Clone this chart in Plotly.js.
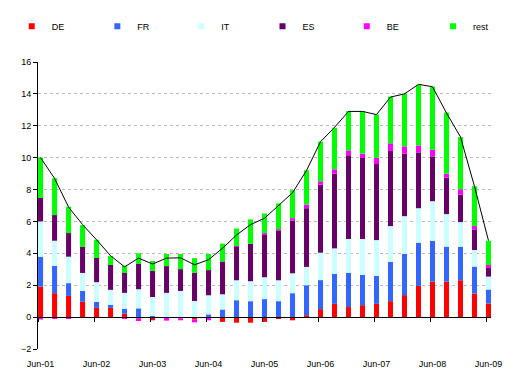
<!DOCTYPE html>
<html>
<head>
<meta charset="utf-8">
<script src="https://cdn.plot.ly/plotly-3.0.1.min.js"></script>
<style>html,body{margin:0;padding:0;background:#fff}#chart{width:515px;height:392px}</style>
</head>
<body>
<div id="chart"></div>
<script>
// Quarters Jun-01 .. Jun-09 (33 quarters)
var quarters = ["Jun-01","Sep-01","Dec-01","Mar-02","Jun-02","Sep-02","Dec-02","Mar-03","Jun-03","Sep-03","Dec-03","Mar-04","Jun-04","Sep-04","Dec-04","Mar-05","Jun-05","Sep-05","Dec-05","Mar-06","Jun-06","Sep-06","Dec-06","Mar-07","Jun-07","Sep-07","Dec-07","Mar-08","Jun-08","Sep-08","Dec-08","Mar-09","Jun-09"];
var tickLabels = ["Jun-01","Jun-02","Jun-03","Jun-04","Jun-05","Jun-06","Jun-07","Jun-08","Jun-09"];

var DE   = [1.92,1.50,1.33,0.96,0.58,0.58,0.21,-0.10,-0.20,0,-0.08,-0.15,0,-0.30,-0.35,-0.35,-0.30,-0.12,-0.20,0.12,0.50,0.83,0.63,0.75,0.83,1.00,1.38,1.96,2.23,2.23,2.31,1.48,0.85];
var FR   = [1.87,1.71,0.80,0.69,0.38,0.19,0.31,0.55,0.08,0,0,0,0.17,0.48,1.06,1.00,1.13,1.00,1.50,1.88,1.82,1.88,2.14,1.90,1.75,2.46,2.58,2.71,2.56,2.19,2.11,1.69,0.88];
var IT   = [2.21,1.58,1.66,1.12,1.23,0.94,1.00,1.20,1.18,1.52,1.64,1.01,1.20,0.95,1.25,1.25,1.37,1.31,1.25,1.15,1.72,1.60,2.13,2.25,2.25,2.25,2.37,2.16,2.48,2.04,1.54,1.04,0.81];
var ES   = [1.48,1.61,1.48,1.63,1.52,1.56,1.25,1.58,1.64,1.68,1.37,1.77,1.58,2.06,2.09,2.35,2.65,3.13,3.31,3.68,4.27,4.69,5.25,5.08,4.77,4.71,3.92,3.50,2.81,2.29,1.71,1.29,0.54];
var BE   = [-0.15,-0.12,-0.12,0,0,0,-0.12,-0.15,0,-0.22,-0.12,-0.18,-0.20,0,0.06,0,0.12,0.08,0.15,0.23,0.21,0.27,0.31,0.27,0.40,0.48,0.46,0.44,0.42,0.25,0.35,0.21,0.19];
var REST = [2.52,2.31,1.65,1.37,1.14,0.56,0.46,0.67,0.62,0.76,0.95,0.92,1.01,1.12,1.10,1.53,1.23,1.61,1.75,2.15,2.48,2.61,2.46,2.67,2.71,2.93,3.29,3.79,3.96,3.83,3.27,2.50,1.52];
var TOTAL = [10.0,8.70,6.90,5.80,4.85,3.85,3.15,3.70,3.33,3.70,3.72,3.28,3.60,4.32,5.15,5.80,6.20,7.00,7.80,9.20,11.0,11.9,12.9,12.9,12.7,13.8,14.0,14.6,14.45,12.8,11.3,8.2,4.8];

var seriesNames  = ["DE","FR","IT","ES","BE","rest"];
var seriesData   = [DE, FR, IT, ES, BE, REST];
var seriesColors = ["#FF0000","#3366FF","#CCFFFF","#660066","#FF00FF","#00FF00"];

var idx = quarters.map(function(q,i){return i;});
var tickIdx = [], tickPos = [];
quarters.forEach(function(q,i){ if(q.indexOf("Jun")===0){ tickIdx.push(i); tickPos.push(i-0.13);} });

var font = {family:"Liberation Sans, Arial, sans-serif", size:9, color:"#000"};
var legendX = [-0.058, 0.131, 0.3162, 0.4956, 0.6816, 0.872];

var traces = [];
seriesNames.forEach(function(n,k){
  traces.push({
    type:"bar", x:idx, y:seriesData[k], name:n, showlegend:false,
    marker:{color:seriesColors[k], line:{width:0}},
    hoverinfo:"y+name"
  });
});
// legend entries (small square swatches), one legend box per series
seriesNames.forEach(function(n,k){
  traces.push({
    type:"scatter", mode:"markers", x:[null], y:[null], name:n, showlegend:true,
    legend: k===0 ? "legend" : "legend"+(k+1),
    marker:{symbol:"square", size:6, color:seriesColors[k]}
  });
});
traces.push({
  type:"scatter", mode:"lines", x:idx, y:TOTAL, xaxis:"x2", yaxis:"y",
  line:{color:"#000000", width:1}, showlegend:false, name:"total"
});

var rng = [-0.184, 32.18];

var layout = {
  width:515, height:392,
  margin:{l:34, r:24, t:62, b:43, pad:0},
  paper_bgcolor:"#fff", plot_bgcolor:"#fff",
  font:font,
  barmode:"relative", bargap:0.64,
  showlegend:true,
  xaxis:{range:rng, tickvals:tickIdx, ticktext:tickLabels, showline:false, showgrid:false,
         zeroline:false, ticks:"", ticklabelstandoff:8, tickfont:font, fixedrange:true},
  xaxis2:{range:rng, overlaying:"x", anchor:"free", position:2/18, side:"bottom",
          showline:true, linecolor:"#000", linewidth:1, ticks:"outside", ticklen:4,
          tickcolor:"#000", tickvals:tickPos, showticklabels:false, showgrid:false, zeroline:false},
  yaxis:{range:[-2,16], dtick:2, tick0:0, showline:true, linecolor:"#000", linewidth:1,
         ticks:"outside", ticklen:4, tickcolor:"#000", showgrid:true, gridcolor:"#b8b8b8",
         griddash:"3px,3px", gridwidth:1, zeroline:false, tickfont:font}
};
legendX.forEach(function(lx,k){
  var key = k===0 ? "legend" : "legend"+(k+1);
  layout[key] = {orientation:"h", x:lx, xanchor:"left", y:1.125, yanchor:"middle",
                 font:font, itemwidth:30, bgcolor:"rgba(0,0,0,0)", borderwidth:0};
});

Plotly.newPlot("chart", traces, layout, {displayModeBar:false, staticPlot:true});
</script>
</body>
</html>
